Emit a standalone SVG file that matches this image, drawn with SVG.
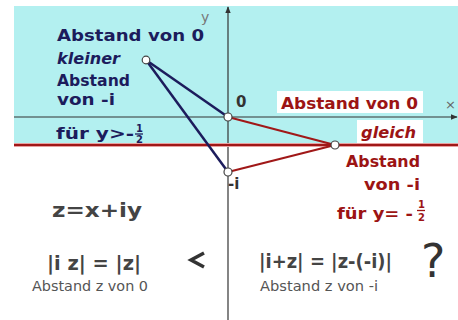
<svg xmlns="http://www.w3.org/2000/svg" width="458" height="320" viewBox="0 0 458 320">
<defs>
<style>
.nv{fill:#1c1c5c;font-family:"DejaVu Sans",sans-serif;font-weight:bold;font-size:16.5px}
.rd{fill:#9c1414;font-family:"DejaVu Sans",sans-serif;font-weight:bold;font-size:16.5px}
.it{font-style:italic}
.gr{fill:#444;font-family:"DejaVu Sans",sans-serif;font-weight:bold;font-size:19px}
.gs{fill:#555;font-family:"DejaVu Sans",sans-serif;font-size:14px}
.ax{stroke:#333;stroke-width:1.2;fill:none}
.pt{fill:#fff;stroke:#444;stroke-width:1.2}
.fr{font-size:10px}
</style>
<marker id="ah" viewBox="0 0 10 10" refX="9" refY="5" markerWidth="7" markerHeight="7" orient="auto" markerUnits="userSpaceOnUse">
<path d="M0,1 L10,5 L0,9 Z" fill="#333"/>
</marker>
</defs>
<rect x="0" y="0" width="458" height="320" fill="#fff"/>
<rect x="14" y="6" width="444" height="139" fill="#b3f0f0"/>
<g id="axes">
<line class="ax" x1="14" y1="117" x2="457" y2="117" marker-end="url(#ah)"/>
<line class="ax" x1="228" y1="320" x2="228" y2="7" marker-end="url(#ah)"/>
<text x="445" y="109" fill="#666" font-family="DejaVu Sans,sans-serif" font-size="13">×</text>
<text x="201" y="22" fill="#777" font-family="DejaVu Sans,sans-serif" font-size="14">y</text>
</g>
<line x1="14" y1="145" x2="458" y2="145" stroke="#e8a0a0" stroke-width="4"/>
<line x1="14" y1="145" x2="458" y2="145" stroke="#a01818" stroke-width="2"/>
<g id="connectors">
<line x1="146" y1="60" x2="228" y2="117" stroke="#1c1c5c" stroke-width="2.5"/>
<line x1="146" y1="60" x2="228" y2="172" stroke="#1c1c5c" stroke-width="2.5"/>
<line x1="335" y1="145" x2="228" y2="117" stroke="#a01818" stroke-width="2.2"/>
<line x1="335" y1="145" x2="228" y2="172" stroke="#a01818" stroke-width="2.2"/>
</g>
<g id="p-z"><circle class="pt" cx="146" cy="60" r="3.8"/></g>
<g id="p-0"><circle class="pt" cx="228" cy="117" r="4"/>
<text x="236" y="107" fill="#333" font-family="DejaVu Sans,sans-serif" font-weight="bold" font-size="15">0</text></g>
<g id="p-mi"><circle class="pt" cx="228" cy="172" r="4"/>
<text x="228" y="189" fill="#333" font-family="DejaVu Sans,sans-serif" font-weight="bold" font-size="15">-i</text></g>
<g id="p-red"><circle class="pt" cx="335" cy="145" r="4"/></g>
<g id="label-left">
<text class="nv" x="57" y="41" textLength="147" lengthAdjust="spacingAndGlyphs">Abstand von 0</text>
<text class="nv it" x="57" y="64" textLength="63" lengthAdjust="spacingAndGlyphs">kleiner</text>
<text class="nv" x="57" y="86" textLength="73" lengthAdjust="spacingAndGlyphs">Abstand</text>
<text class="nv" x="57" y="105" textLength="58" lengthAdjust="spacingAndGlyphs">von -i</text>
<text class="nv" x="56" y="139" textLength="78" lengthAdjust="spacingAndGlyphs">für y&gt;-</text>
<text class="nv fr" x="136" y="132">1</text>
<line x1="135" y1="134" x2="143" y2="134" stroke="#1c1c5c" stroke-width="1.3"/>
<text class="nv fr" x="136" y="143">2</text>
</g>
<g id="label-right">
<rect x="277" y="91" width="146" height="22" fill="#fff"/>
<rect x="357" y="120" width="66" height="23" fill="#fff"/>
<text class="rd" x="281" y="109" textLength="137" lengthAdjust="spacingAndGlyphs">Abstand von 0</text>
<text class="rd it" x="361" y="138" textLength="55" lengthAdjust="spacingAndGlyphs">gleich</text>
<text class="rd" x="346" y="167" textLength="74" lengthAdjust="spacingAndGlyphs">Abstand</text>
<text class="rd" x="364" y="190" textLength="56" lengthAdjust="spacingAndGlyphs">von  -i</text>
<text class="rd" x="337" y="219" textLength="76" lengthAdjust="spacingAndGlyphs">für y= -</text>
<text class="rd fr" x="418" y="208">1</text>
<line x1="417" y1="210.5" x2="425" y2="210.5" stroke="#9c1414" stroke-width="1.3"/>
<text class="rd fr" x="418" y="221">2</text>
</g>
<g id="formula">
<text class="gr" x="52" y="217" textLength="90" lengthAdjust="spacingAndGlyphs">z=x+iy</text>
</g>
<g id="left-eq">
<text class="gr" x="47" y="270" textLength="94" lengthAdjust="spacingAndGlyphs">|i z| = |z|</text>
<text class="gs" x="32" y="291" textLength="116" lengthAdjust="spacingAndGlyphs">Abstand z von 0</text>
</g>
<g id="less">
<path d="M204,253 L191,260 L204,267" fill="none" stroke="#333" stroke-width="3.5" stroke-linejoin="miter"/>
</g>
<g id="right-eq">
<text class="gr" x="259" y="268" textLength="133" lengthAdjust="spacingAndGlyphs">|i+z| = |z-(-i)|</text>
<text class="gs" x="260" y="291" textLength="118" lengthAdjust="spacingAndGlyphs">Abstand z von -i</text>
</g>
<g id="question">
<text x="421" y="277" fill="#333" font-family="DejaVu Sans,sans-serif" font-size="46">?</text>
</g>
</svg>
